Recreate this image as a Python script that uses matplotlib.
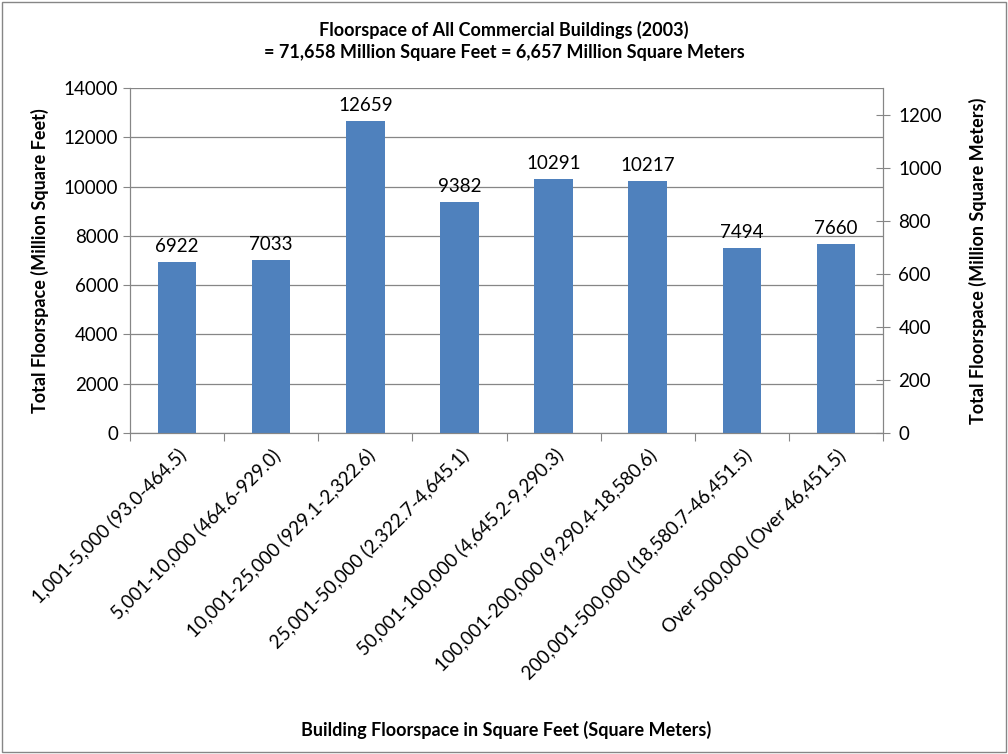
import matplotlib.pyplot as plt
from matplotlib.patches import Rectangle

categories = ['1,001-5,000 (93.0-464.5)', '5,001-10,000 (464.6-929.0)',
              '10,001-25,000 (929.1-2,322.6)', '25,001-50,000 (2,322.7-4,645.1)',
              '50,001-100,000 (4,645.2-9,290.3)', '100,001-200,000 (9,290.4-18,580.6)',
              '200,001-500,000 (18,580.7-46,451.5)', 'Over 500,000 (Over 46,451.5)']
floorspace = [6922, 7033, 12659, 9382, 10291, 10217, 7494, 7660]
left_ticks = [0, 2000, 4000, 6000, 8000, 10000, 12000, 14000]
right_ticks = [0, 200, 400, 600, 800, 1000, 1200]
sqft_to_sqm = 0.092903

plt.rcParams['font.family'] = ['Lato', 'DejaVu Sans']

fig = plt.figure(figsize=(10.08, 7.54), dpi=100)
ax = fig.add_axes([130/1008, 1-433/754, (883-130)/1008, (433-88)/754])

x = range(len(categories))
ax.bar(x, floorspace, width=0.41, color='#4F81BD', zorder=3)
for i, v in enumerate(floorspace):
    ax.annotate(str(v), (i, v), xytext=(0, 5), textcoords='offset points',
                ha='center', va='bottom', fontsize=13.5)

ax.set_xlim(-0.5, len(categories) - 0.5)
ax.set_ylim(0, 14000)
ax.set_yticks(left_ticks)
ax.tick_params(axis='y', labelsize=13.5, length=5, color='#868686', direction='out')
ax.grid(axis='y', color='#868686', linewidth=0.9, zorder=0)

# category ticks between the bars
ax.set_xticks([i - 0.5 for i in range(len(categories) + 1)], minor=False)
ax.set_xticklabels([])
ax.set_xticks(list(x), minor=True)
ax.set_xticklabels(categories, minor=True, rotation=45, ha='right', va='top',
                   rotation_mode='anchor', fontsize=13.5)
ax.tick_params(axis='x', which='major', length=6, color='#868686')
ax.tick_params(axis='x', which='minor', length=0, pad=9)

ax.spines['top'].set_visible(False)
for s in ['left', 'bottom', 'right']:
    ax.spines[s].set_color('#868686')

ax.set_ylabel('Total Floorspace (Million Square Feet)', fontsize=13, fontweight='bold')
ax.yaxis.set_label_coords(-0.107, 0.5)
ax.set_xlabel('Building Floorspace in Square Feet (Square Meters)', fontsize=13,
              fontweight='bold')
ax.xaxis.set_label_coords(0.5, -0.835)

ax2 = ax.twinx()
ax2.set_ylim(0, 14000 * sqft_to_sqm)
ax2.set_yticks(right_ticks)
ax2.tick_params(axis='y', labelsize=13.5, length=10, color='#868686', direction='inout', pad=6)
ax2.spines['top'].set_visible(False)
for s in ['left', 'bottom', 'right']:
    ax2.spines[s].set_color('#868686')
ax2.set_ylabel('Total Floorspace (Million Square Meters)', fontsize=13, fontweight='bold')
ax2.yaxis.set_label_coords(1.114, 0.5)

fig.text(0.5, 1 - 41/754, 'Floorspace of All Commercial Buildings (2003)\n'
         '= 71,658 Million Square Feet = 6,657 Million Square Meters',
         ha='center', va='center', fontsize=13, fontweight='bold', linespacing=1.35)

fig.patches.append(Rectangle((0.002, 0.002), 0.996, 0.996, transform=fig.transFigure,
                             fill=False, edgecolor='#868686', linewidth=1))

fig.savefig('out.png', dpi=100)
